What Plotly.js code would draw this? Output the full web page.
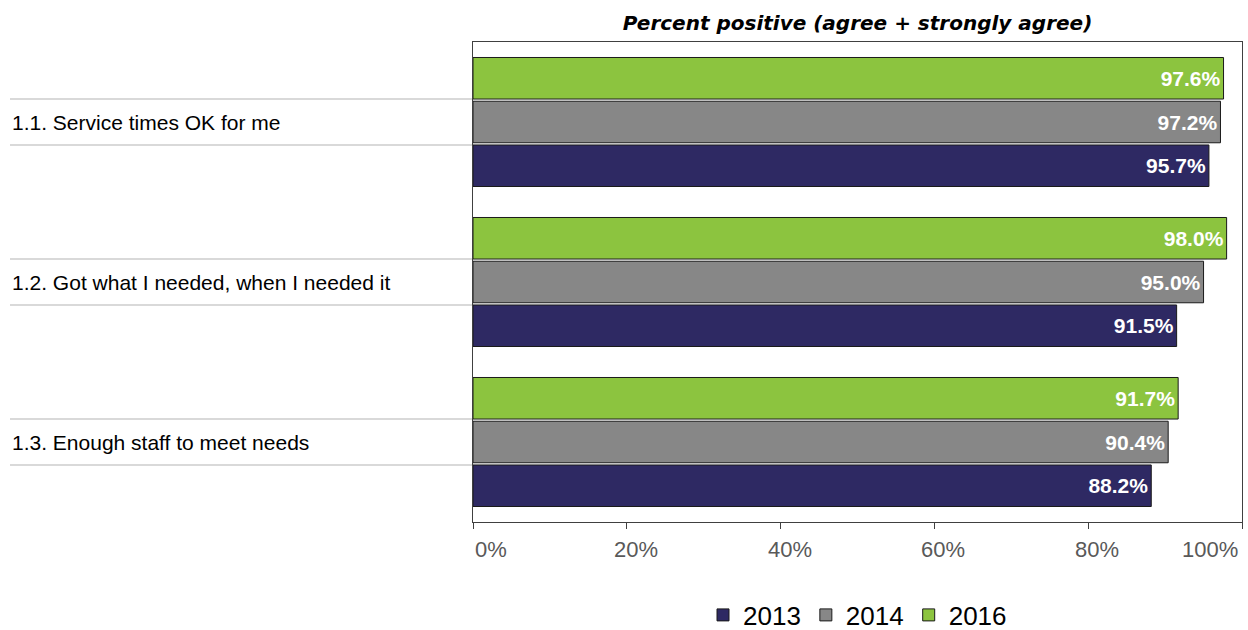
<!DOCTYPE html>
<html>
<head>
<meta charset="utf-8">
<script src="https://cdn.plot.ly/plotly-3.0.1.min.js"></script>
<style>html,body{margin:0;padding:0;background:#fff;}#chart{width:1248px;height:630px;}</style>
</head>
<body>
<div id="chart"></div>
<script>
const categories = ["1.1. Service times OK for me", "1.2. Got what I needed, when I needed it", "1.3. Enough staff to meet needs"];
const years = ["2013", "2014", "2016"];
const values2013 = [95.7, 91.5, 88.2];
const values2014 = [97.2, 95.0, 90.4];
const values2016 = [97.6, 98.0, 91.7];
const tickVals = [0, 20, 40, 60, 80, 100];
const tickLabels = ["0%", "20%", "40%", "60%", "80%", "100%"];
const chartTitle = "Percent positive (agree + strongly agree)";

const seriesValues = [values2013, values2014, values2016];
const colors = ["#2E2963", "#878787", "#8CC43F"];

const traces = years.map((yr, k) => ({
  type: "bar",
  orientation: "h",
  name: yr,
  y: categories,
  x: seriesValues[k],
  text: seriesValues[k].map(v => v.toFixed(1) + "%"),
  textposition: "inside",
  insidetextanchor: "end",
  textangle: 0,
  constraintext: "none",
  textfont: {family: "Liberation Sans, Arial, sans-serif", size: 21, color: "#ffffff", weight: "bold"},
  marker: {color: colors[k], line: {color: "#1a1a1a", width: 1}},
  hoverinfo: "skip"
}));

const n = categories.length;
const annotations = [];
const shapes = [];
const plotLeft = 473, plotRight = 1242, plotW = plotRight - plotLeft;
const labelPaperX = (10 - plotLeft) / plotW;

categories.forEach((c, i) => {
  const idx = n - 1 - i;
  annotations.push({
    xref: "paper", yref: "y", x: labelPaperX, y: idx,
    text: c, showarrow: false, xanchor: "left", yanchor: "middle",
    font: {family: "Liberation Sans, Arial, sans-serif", size: 21, color: "#000"}
  });
  [-0.144, 0.144].forEach(d => {
    shapes.push({
      type: "line", xref: "paper", yref: "y",
      x0: labelPaperX, x1: 0, y0: idx + d, y1: idx + d,
      line: {color: "#d9d9d9", width: 2}, layer: "below"
    });
  });
});

tickVals.forEach((v, i) => {
  let xanchor = "center", xshift = 9;
  if (i === 0) { xanchor = "left"; xshift = 0; }
  if (i === tickVals.length - 1) { xanchor = "right"; xshift = -2; }
  annotations.push({
    xref: "x", yref: "paper", x: v, y: 0, yshift: -27,
    text: tickLabels[i], showarrow: false, xanchor: xanchor, yanchor: "middle", xshift: xshift,
    font: {family: "Liberation Sans Narrow, Arial Narrow, Liberation Sans, sans-serif", size: 22, color: "#595959"}
  });
});

const layout = {
  width: 1248, height: 630,
  margin: {l: plotLeft, r: 1248 - plotRight, t: 42, b: 108, pad: 0},
  paper_bgcolor: "#fff", plot_bgcolor: "#fff",
  title: {
    text: "<b><i>" + chartTitle + "</i></b>",
    x: 0.5, xref: "paper", xanchor: "center",
    y: 1 - 23 / 630, yref: "container", yanchor: "middle",
    font: {family: "DejaVu Sans, Verdana, sans-serif", size: 20, color: "#000"}
  },
  barmode: "group",
  bargap: 0.18,
  bargroupgap: 0.05,
  xaxis: {
    range: [0, 100], tickvals: tickVals, showticklabels: false,
    ticks: "outside", ticklen: 6, tickcolor: "#404040", tickwidth: 1,
    showgrid: false, zeroline: false,
    showline: true, linecolor: "#404040", linewidth: 1, mirror: true,
    fixedrange: true
  },
  yaxis: {
    type: "category",
    categoryorder: "array", categoryarray: categories.slice().reverse(),
    showticklabels: false, ticks: "", showgrid: false, zeroline: false,
    showline: true, linecolor: "#404040", linewidth: 1, mirror: true,
    fixedrange: true
  },
  legend: {
    orientation: "h", xref: "paper", x: 0.5, xanchor: "center",
    yref: "container", y: 15 / 630, yanchor: "middle",
    font: {family: "Liberation Sans, Arial, sans-serif", size: 26, color: "#000"},
    itemwidth: 30, traceorder: "normal"
  },
  annotations: annotations,
  shapes: shapes,
  showlegend: true
};

Plotly.newPlot("chart", traces, layout, {displayModeBar: false, staticPlot: true});
</script>
</body>
</html>
